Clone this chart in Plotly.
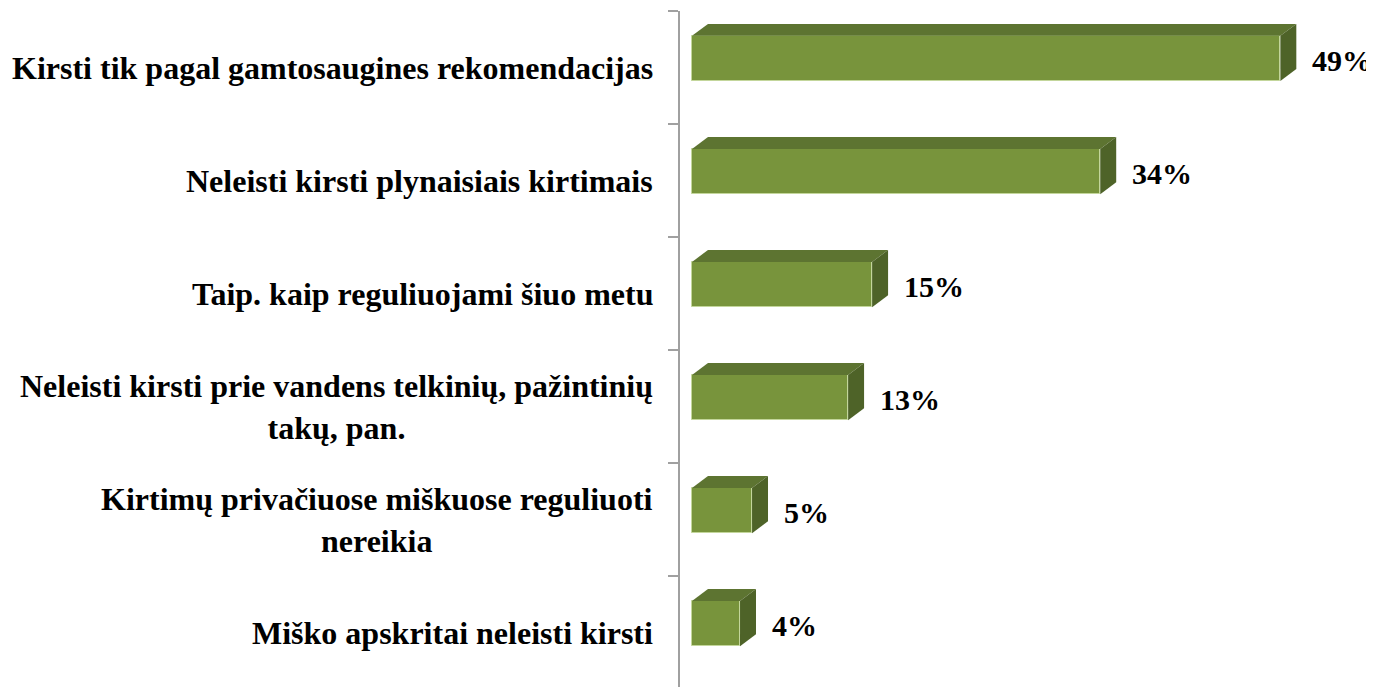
import plotly.graph_objects as go

# Data
categories = [
    "Kirsti tik pagal gamtosaugines rekomendacijas",
    "Neleisti kirsti plynaisiais kirtimais",
    "Taip. kaip reguliuojami šiuo metu",
    "Neleisti kirsti prie vandens telkinių, pažintinių<br>takų, pan.",
    "Kirtimų privačiuose miškuose reguliuoti<br>nereikia",
    "Miško apskritai neleisti kirsti",
]
values = [49, 34, 15, 13, 5, 4]
value_labels = ["49%", "34%", "15%", "13%", "5%", "4%"]

# Styling
front_color = "#78943C"
top_color = "#5D7431"
side_color = "#4E6328"
font_family = "Liberation Serif, Times New Roman, serif"

bar_offset = -0.28   # bar front starts above the category centre
bar_width = 0.40
depth_x = 1.33       # depth of 3D effect, in x units (%)
depth_y = 0.106      # depth of 3D effect, in category units

ypos = list(range(len(categories)))

fig = go.Figure()

# front faces
fig.add_bar(
    x=values,
    y=ypos,
    orientation="h",
    offset=bar_offset,
    width=bar_width,
    marker=dict(color=front_color, line=dict(color="#C3D69B", width=1)),
    hoverinfo="skip",
    showlegend=False,
)

# top and side faces of the 3D bars
for yi, v in zip(ypos, values):
    y_top = yi + bar_offset
    y_bot = y_top + bar_width
    fig.add_scatter(
        x=[0, v, v + depth_x, depth_x, 0],
        y=[y_top, y_top, y_top - depth_y, y_top - depth_y, y_top],
        mode="lines",
        fill="toself",
        fillcolor=top_color,
        line=dict(width=0),
        hoverinfo="skip",
        showlegend=False,
    )
    fig.add_scatter(
        x=[v, v + depth_x, v + depth_x, v, v],
        y=[y_top, y_top - depth_y, y_bot - depth_y, y_bot, y_top],
        mode="lines",
        fill="toself",
        fillcolor=side_color,
        line=dict(width=0),
        hoverinfo="skip",
        showlegend=False,
    )

# value labels
for yi, v, lab in zip(ypos, values, value_labels):
    fig.add_annotation(
        x=v + depth_x, y=yi - 0.06, text=lab, showarrow=False,
        xanchor="left", xshift=14,
        font=dict(family=font_family, size=30, color="black", weight="bold"),
    )

# category labels
for yi, cat in zip(ypos, categories):
    fig.add_annotation(
        x=0, xref="paper", y=yi, text=cat, showarrow=False,
        xanchor="right", xshift=-25, align="center",
        font=dict(family=font_family, size=32, color="black", weight="bold"),
    )

# page body has an 8px margin, so the figure is sized to fit the window
fig.update_layout(
    width=1366,
    height=679,
    margin=dict(l=672, r=0, t=3, b=0),
    paper_bgcolor="white",
    plot_bgcolor="white",
    bargap=0,
    xaxis=dict(
        range=[-1, 56.8],
        showgrid=False, zeroline=False, showticklabels=False, showline=False,
    ),
    yaxis=dict(
        range=[5.48, -0.5],
        tickvals=[i - 0.5 for i in range(len(categories))],
        ticks="outside", ticklen=10, tickcolor="#A0A0A0", tickwidth=2,
        showticklabels=False, showgrid=False, zeroline=False,
        showline=True, linecolor="#A0A0A0", linewidth=2,
    ),
)

fig.write_html("out.html")
